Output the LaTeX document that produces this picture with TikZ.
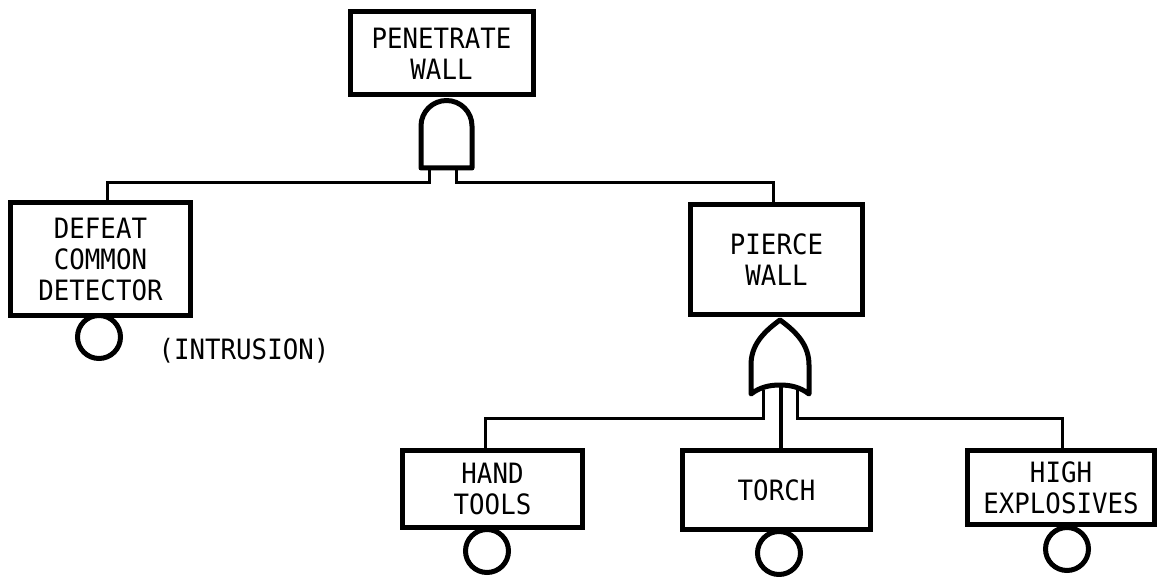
\documentclass[tikz,border=0pt]{standalone}
\usepackage{fontspec}
\newfontfamily\lettering[FakeStretch=0.92]{DejaVu Sans Mono}
\begin{document}
\begin{tikzpicture}[x=1pt,y=-1pt,
  lbl/.style={font=\lettering\fontsize{28}{31}\selectfont},
  box/.style={lbl, draw, line width=5pt, fill=white, inner sep=0pt, align=center},
  conn/.style={line width=3pt},
  gate/.style={line width=5pt, line join=round, fill=white},
  basic/.style={draw, circle, line width=5pt, inner sep=0pt, minimum size=43pt}]
\useasboundingbox (0,0) rectangle (1162,577);

% basic-event circles (drawn first so boxes cover their tops)
\node[basic] (cDefeat) at (99,337) {};
\node[basic] (cHand) at (487,551) {};
\node[basic] (cTorch) at (779,553) {};
\node[basic] (cHigh) at (1067,549) {};

% gate terminals
\coordinate (andL) at (429,166);
\coordinate (andR) at (456,166);
\coordinate (orL) at (763,390);
\coordinate (orR) at (797,390);
\coordinate (orM) at (781,385);

% boxes
\node[box, minimum width=183pt, minimum height=83pt] (top) at (441.5,53.5) {PENETRATE\\WALL};
\node[box, minimum width=180pt, minimum height=113pt] (defeat) at (100.5,259) {DEFEAT\\COMMON\\DETECTOR};
\node[box, minimum width=172pt, minimum height=110pt] (pierce) at (776.5,259.5) {PIERCE\\WALL};
\node[box, minimum width=180pt, minimum height=77pt] (hand) at (492.5,489) {HAND\\TOOLS};
\node[box, minimum width=188pt, minimum height=79pt] (torch) at (776.5,490) {TORCH};
\node[box, minimum width=187pt, minimum height=74pt] (high) at (1061,487.5) {HIGH\\EXPLOSIVES};

\node[lbl] (intr) at (244,351) {(INTRUSION)};

% connectors
\draw[conn] (andL) -- (andL |- 0,183) -| ([xshift=6.5pt]defeat.north);
\draw[conn] (andR) -- (andR |- 0,183) -| ([xshift=-3.5pt]pierce.north);
\draw[conn] (orL) -- (orL |- 0,418) -| ([xshift=-7.5pt]hand.north);
\draw[conn] (orR) -- (orR |- 0,418) -| ([xshift=1pt]high.north);
\draw[line width=4pt] (orM) -- (orM |- torch.north);

% AND gate
\draw[gate] (421,168) -- (421,126)
  .. controls (421,111.9) and (432.4,100.5) .. (446.5,100.5)
  .. controls (460.6,100.5) and (472,111.9) .. (472,126)
  -- (472,168) -- cycle;

% OR gate
\draw[gate] (780,320)
  .. controls (762,333) and (751,346) .. (751,365)
  -- (751,394)
  .. controls (760,387) and (770,385) .. (780,385)
  .. controls (790,385) and (800,387) .. (809,394)
  -- (809,365)
  .. controls (809,346) and (798,333) .. (780,320) -- cycle;
\end{tikzpicture}
\end{document}
